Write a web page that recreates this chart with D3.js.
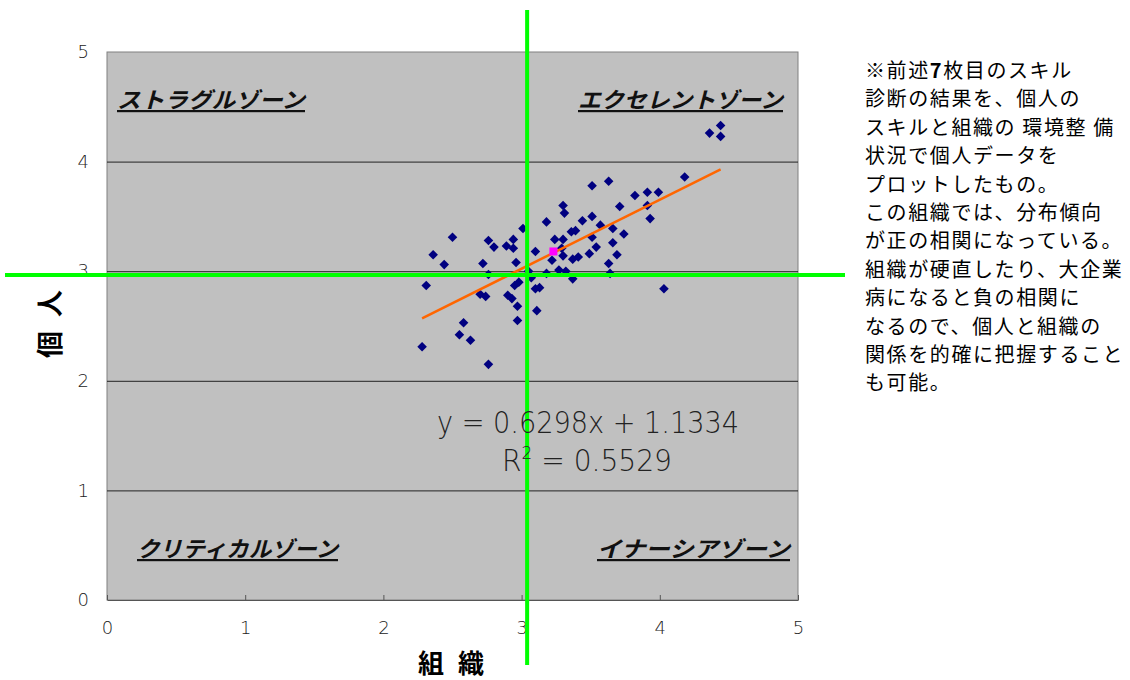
<!DOCTYPE html>
<html>
<head>
<meta charset="utf-8">
<script src="https://cdn.jsdelivr.net/npm/d3@7"></script>
<style>
  body { margin: 0; background: #fff; }
  svg { display: block; }
</style>
</head>
<body>
<div id="chart"></div>
<script>
// 組織 (x) and 個人 (y) scores
const orgScores = [2.28, 2.31, 2.36, 2.44, 2.50, 2.55, 2.58, 2.63, 2.70, 2.74, 2.72, 2.76, 2.80, 2.76, 2.76,
  2.89, 2.94, 2.94, 3.01, 2.96, 2.90, 2.93, 2.98, 2.95, 2.97, 2.97, 3.05, 3.07, 3.10, 3.13, 3.11, 3.10,
  3.18, 3.18, 3.22, 3.24, 3.27, 3.29, 3.30, 3.31, 3.30, 3.30, 3.36, 3.39, 3.37, 3.41, 3.37, 3.44, 3.51,
  3.51, 3.51, 3.49, 3.54, 3.57, 3.63, 3.66, 3.66, 3.69, 3.63, 3.64, 3.71, 3.74, 3.82, 3.91, 3.99, 3.91,
  3.93, 4.03, 4.18, 4.36, 4.44, 4.44, 3.32];
const personalScores = [2.31, 2.87, 3.15, 3.06, 3.31, 2.42, 2.53, 2.37, 2.79, 2.77, 3.07, 3.28, 3.22, 2.97, 2.15,
  3.23, 3.21, 3.29, 3.39, 3.08, 2.78, 2.75, 2.90, 2.87, 2.68, 2.55, 3.00, 2.94, 2.84, 2.85, 2.64, 3.18,
  3.45, 2.98, 3.10, 3.29, 3.01, 3.21, 3.60, 3.53, 3.29, 3.14, 3.36, 3.37, 3.11, 3.13, 2.93, 3.46, 3.78,
  3.50, 3.31, 3.16, 3.22, 3.42, 3.82, 3.39, 3.26, 3.15, 3.07, 2.98, 3.59, 3.34, 3.69, 3.72, 3.72, 3.60,
  3.48, 2.84, 3.86, 4.26, 4.33, 4.23, 3.00];

// mean point (pink) and quadrant dividers
const meanPoint = [3.23, 3.18];
const dividerX = 3.04;
const dividerY = 2.965;

// linear trend
const slope = 0.6298;
const intercept = 1.1334;
const rSquared = 0.5529;

const xTicks = [0, 1, 2, 3, 4, 5];
const yTicks = [0, 1, 2, 3, 4, 5];

const zoneLabels = [
  { text: "ストラグルゾーン", x: 117, y: 108, w: 188 },
  { text: "エクセレントゾーン", x: 578, y: 108, w: 205 },
  { text: "クリティカルゾーン", x: 137, y: 557, w: 201 },
  { text: "イナーシアゾーン", x: 597, y: 557, w: 193 }
];

const noteLines = [
  "※前述7枚目のスキル",
  "診断の結果を、個人の",
  "スキルと組織の 環境整 備",
  "状況で個人データを",
  "プロットしたもの。",
  "この組織では、分布傾向",
  "が正の相関になっている。",
  "組織が硬直したり、大企業",
  "病になると負の相関に",
  "なるので、個人と組織の",
  "関係を的確に把握すること",
  "も可能。"
];

const width = 1130, height = 680;
const plot = { left: 107, top: 52, right: 798, bottom: 600 };

const svg = d3.select("#chart").append("svg")
  .attr("width", width)
  .attr("height", height);

const x = d3.scaleLinear().domain([0, 5]).range([plot.left, plot.right]);
const y = d3.scaleLinear().domain([0, 5]).range([plot.bottom, plot.top]);

// plot background
svg.append("rect")
  .attr("x", plot.left).attr("y", plot.top)
  .attr("width", plot.right - plot.left).attr("height", plot.bottom - plot.top)
  .attr("fill", "#c0c0c0")
  .attr("stroke", "#808080");

// horizontal gridlines
svg.append("g")
  .selectAll("line")
  .data(yTicks.filter(d => d > 0 && d < 5))
  .join("line")
  .attr("x1", plot.left).attr("x2", plot.right)
  .attr("y1", d => y(d) + 0.5).attr("y2", d => y(d) + 0.5)
  .attr("stroke", "#222")
  .attr("stroke-width", 1);

// axes
const xAxis = svg.append("g")
  .attr("transform", `translate(0,${plot.bottom})`)
  .call(d3.axisBottom(x).tickValues(xTicks).tickFormat(d3.format("d"))
    .tickSizeInner(-5).tickSizeOuter(0).tickPadding(21));
const yAxis = svg.append("g")
  .attr("transform", `translate(${plot.left},0)`)
  .call(d3.axisLeft(y).tickValues(yTicks).tickFormat(d3.format("d"))
    .tickSize(0).tickPadding(18));

[xAxis, yAxis].forEach(g => {
  g.select(".domain").attr("stroke", "#555");
  g.selectAll(".tick line").attr("stroke", "#555");
  g.selectAll(".tick text")
    .attr("fill", "#222")
    .style("font-family", "'DejaVu Sans', sans-serif")
    .style("font-weight", "300")
    .style("font-size", "18px");
});
yAxis.select(".domain").remove();

// axis titles
svg.append("text")
  .attr("x", 453).attr("y", 673)
  .attr("text-anchor", "middle")
  .style("font-family", "'Noto Sans CJK JP', sans-serif")
  .style("font-size", "26px")
  .style("font-weight", "bold")
  .style("letter-spacing", "4px")
  .text("組 織");

svg.append("text")
  .attr("transform", "translate(60,322) rotate(-90)")
  .attr("text-anchor", "middle")
  .style("font-family", "'Noto Sans CJK JP', sans-serif")
  .style("font-size", "27px")
  .style("font-weight", "bold")
  .style("letter-spacing", "4px")
  .text("個 人");

// zone labels
svg.append("g")
  .selectAll("text")
  .data(zoneLabels)
  .join("text")
  .attr("x", d => d.x).attr("y", d => d.y)
  .attr("textLength", d => d.w)
  .attr("lengthAdjust", "spacingAndGlyphs")
  .style("font-family", "'Noto Sans CJK JP', sans-serif")
  .style("font-size", "22px")
  .style("font-weight", "bold")
  .style("font-style", "italic")
  .style("text-decoration", "underline")
  .attr("fill", "#111")
  .text(d => d.text);

// data points
const points = orgScores.map((v, i) => [v, personalScores[i]]);
svg.append("g")
  .selectAll("path")
  .data(points)
  .join("path")
  .attr("transform", d => `translate(${x(d[0])},${y(d[1])}) rotate(45)`)
  .attr("d", d3.symbol(d3.symbolSquare, 46))
  .attr("fill", "#000080");

// trend line
const xExtent = d3.extent(orgScores);
svg.append("line")
  .attr("x1", x(xExtent[0])).attr("y1", y(slope * xExtent[0] + intercept))
  .attr("x2", x(xExtent[1])).attr("y2", y(slope * xExtent[1] + intercept))
  .attr("stroke", "#ff6600")
  .attr("stroke-width", 2.5);

// mean marker
svg.append("rect")
  .attr("x", x(meanPoint[0]) - 4).attr("y", y(meanPoint[1]) - 4)
  .attr("width", 8).attr("height", 8)
  .attr("fill", "#ff00ff");

// quadrant dividers
svg.append("line")
  .attr("x1", x(dividerX)).attr("x2", x(dividerX))
  .attr("y1", 10).attr("y2", 665)
  .attr("stroke", "#00ff00").attr("stroke-width", 4);
svg.append("line")
  .attr("x1", 5).attr("x2", 845)
  .attr("y1", y(dividerY)).attr("y2", y(dividerY))
  .attr("stroke", "#00ff00").attr("stroke-width", 4);

// regression equation
const eq = svg.append("g")
  .style("font-family", "'DejaVu Sans', sans-serif")
  .style("font-weight", "300")
  .style("font-size", "30px")
  .attr("fill", "#222");
eq.append("text")
  .attr("x", 437).attr("y", 433)
  .attr("textLength", 302)
  .attr("lengthAdjust", "spacingAndGlyphs")
  .text(`y = ${slope}x + ${intercept}`);
const r2 = eq.append("text")
  .attr("x", 502).attr("y", 471)
  .attr("textLength", 170)
  .attr("lengthAdjust", "spacingAndGlyphs");
r2.append("tspan").text("R");
r2.append("tspan").attr("dy", -12).style("font-size", "18px").text("2");
r2.append("tspan").attr("dy", 12).text(` = ${rSquared}`);

// note on the right
const note = svg.append("text")
  .attr("x", 865).attr("y", 78)
  .style("font-family", "'Noto Sans CJK JP', sans-serif")
  .style("font-size", "20px")
  .style("letter-spacing", "1.6px")
  .attr("fill", "#000");
note.selectAll("tspan")
  .data(noteLines)
  .join("tspan")
  .attr("x", 865)
  .attr("dy", (d, i) => i === 0 ? 0 : 28.4)
  .each(function (d, i) {
    // first line has a bold "7"
    if (i === 0) {
      const parts = d.split("7");
      d3.select(this).append("tspan").text(parts[0]);
      d3.select(this).append("tspan").style("font-weight", "bold").text("7");
      d3.select(this).append("tspan").text(parts[1]);
    } else {
      d3.select(this).text(d);
    }
  });
</script>
</body>
</html>
